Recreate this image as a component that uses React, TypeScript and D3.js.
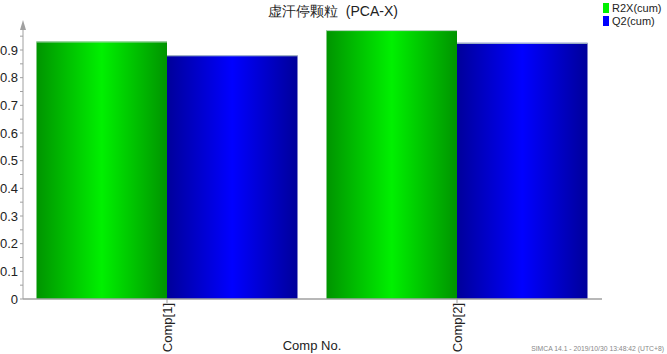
import React, { useEffect, useRef } from 'react';
import * as d3 from 'd3';

const categories = ['Comp[1]', 'Comp[2]'];
const seriesNames = ['R2X(cum)', 'Q2(cum)'];
const r2x = [0.931, 0.972];
const q2 = [0.881, 0.926];
const yTicks = [0, 0.1, 0.2, 0.3, 0.4, 0.5, 0.6, 0.7, 0.8, 0.9];

const width = 667;
const height = 354;
const font = 'Liberation Sans, Arial, sans-serif';

const colors = [
  { edge: '#009400', mid: '#00f000' },
  { edge: '#00009a', mid: '#0000ff' }
];

const App = () => {
  const svgRef = useRef<SVGSVGElement>(null);

  useEffect(() => {
    const svg = d3.select(svgRef.current);
    svg.selectAll('*').remove();

    const x0 = 22, x1 = 602, yBottom = 299;

    const xScale = d3.scaleBand()
      .domain(categories)
      .range([x0, x1])
      .paddingInner(0.1)
      .paddingOuter(0.05);

    const xSub = d3.scaleBand()
      .domain(seriesNames)
      .range([0, xScale.bandwidth()]);

    const yScale = d3.scaleLinear()
      .domain([0, 0.9])
      .range([yBottom, 50]);

    const defs = svg.append('defs');
    colors.forEach((c, i) => {
      const g = defs.append('linearGradient')
        .attr('id', `grad${i}`)
        .attr('x1', '0%').attr('x2', '100%').attr('y1', '0%').attr('y2', '0%');
      g.append('stop').attr('offset', '0%').attr('stop-color', c.edge);
      g.append('stop').attr('offset', '50%').attr('stop-color', c.mid);
      g.append('stop').attr('offset', '100%').attr('stop-color', c.edge);
    });

    // title
    svg.append('text')
      .attr('x', 333).attr('y', 16)
      .attr('text-anchor', 'middle')
      .style('white-space', 'pre')
      .style('font-family', font).style('font-size', '14px').style('fill', '#222')
      .text('虚汗停颗粒  (PCA-X)');

    // bars
    const rows = categories.map((c, i) => ({ cat: c, values: [r2x[i], q2[i]] }));
    svg.selectAll('.grp')
      .data(rows)
      .enter()
      .append('g')
      .attr('class', 'grp')
      .attr('transform', d => `translate(${xScale(d.cat)},0)`)
      .selectAll('rect')
      .data(d => d.values.map((v, j) => ({ key: seriesNames[j], v, j })))
      .enter()
      .append('rect')
      .attr('x', d => xSub(d.key)!)
      .attr('y', d => yScale(d.v))
      .attr('width', xSub.bandwidth())
      .attr('height', d => yBottom - yScale(d.v))
      .style('fill', d => `url(#grad${d.j})`);

    // light top edge on bars
    svg.selectAll('.grp').selectAll('line.top')
      .data((d: any) => d.values.map((v: number, j: number) => ({ key: seriesNames[j], v })))
      .enter()
      .append('line')
      .attr('class', 'top')
      .attr('x1', (d: any) => xSub(d.key)!)
      .attr('x2', (d: any) => xSub(d.key)! + xSub.bandwidth())
      .attr('y1', (d: any) => yScale(d.v) + 0.5)
      .attr('y2', (d: any) => yScale(d.v) + 0.5)
      .style('stroke', '#c0d8c8').style('stroke-width', 1);

    const axisColor = '#a0a0a0';

    // y axis
    const yAxis = svg.append('g').attr('transform', `translate(${x0 + 1},0)`);
    yAxis.append('line')
      .attr('x1', 0).attr('x2', 0).attr('y1', 24).attr('y2', yBottom)
      .style('stroke', axisColor);
    yAxis.append('path')
      .attr('d', 'M0,20 L-3,30 L3,30 Z')
      .style('fill', axisColor);
    const minor = d3.range(0, 0.951, 0.05);
    yAxis.selectAll('.mt')
      .data(minor)
      .enter()
      .append('line')
      .attr('x1', -3).attr('x2', 0)
      .attr('y1', d => yScale(d)).attr('y2', d => yScale(d))
      .style('stroke', axisColor);
    yAxis.selectAll('.yl')
      .data(yTicks)
      .enter()
      .append('text')
      .attr('x', -5)
      .attr('y', d => yScale(d) + 4.5)
      .attr('text-anchor', 'end')
      .style('font-family', font).style('font-size', '13px').style('fill', '#222')
      .text(d => (d === 0 ? '0' : d3.format('.1f')(d)));

    // x axis
    svg.append('line')
      .attr('x1', x0 + 1).attr('x2', x1).attr('y1', yBottom).attr('y2', yBottom)
      .style('stroke', axisColor).style('stroke-width', 1.5);
    svg.selectAll('.xt')
      .data(categories)
      .enter()
      .append('line')
      .attr('x1', d => xScale(d)! + xScale.bandwidth() / 2)
      .attr('x2', d => xScale(d)! + xScale.bandwidth() / 2)
      .attr('y1', yBottom).attr('y2', yBottom + 4)
      .style('stroke', axisColor);
    svg.selectAll('.xl')
      .data(categories)
      .enter()
      .append('text')
      .attr('transform', d => `translate(${xScale(d)! + xScale.bandwidth() / 2 + 4.5},${yBottom + 4}) rotate(-90)`)
      .attr('text-anchor', 'end')
      .style('font-family', font).style('font-size', '13px').style('fill', '#222')
      .text(d => d);

    svg.append('text')
      .attr('x', 312).attr('y', 350)
      .attr('text-anchor', 'middle')
      .style('font-family', font).style('font-size', '13px').style('fill', '#222')
      .text('Comp No.');

    // legend
    const leg = svg.append('g').attr('transform', 'translate(603,3)');
    seriesNames.forEach((s, i) => {
      leg.append('rect')
        .attr('x', 0).attr('y', i * 13)
        .attr('width', 6).attr('height', 10)
        .style('fill', colors[i].mid);
      leg.append('text')
        .attr('x', 9).attr('y', i * 13 + 9)
        .style('font-family', font).style('font-size', '11px').style('fill', '#222')
        .text(s);
    });

    svg.append('text')
      .attr('x', 664).attr('y', 351)
      .attr('text-anchor', 'end')
      .style('font-family', font).style('font-size', '6.8px').style('fill', '#888')
      .text('SIMCA 14.1 - 2019/10/30 13:48:42 (UTC+8)');
  }, []);

  return (
    <svg
      ref={svgRef}
      width={width}
      height={height}
      style={{ position: 'absolute', left: 0, top: 0, background: '#fff' }}
    />
  );
};

export default App;
